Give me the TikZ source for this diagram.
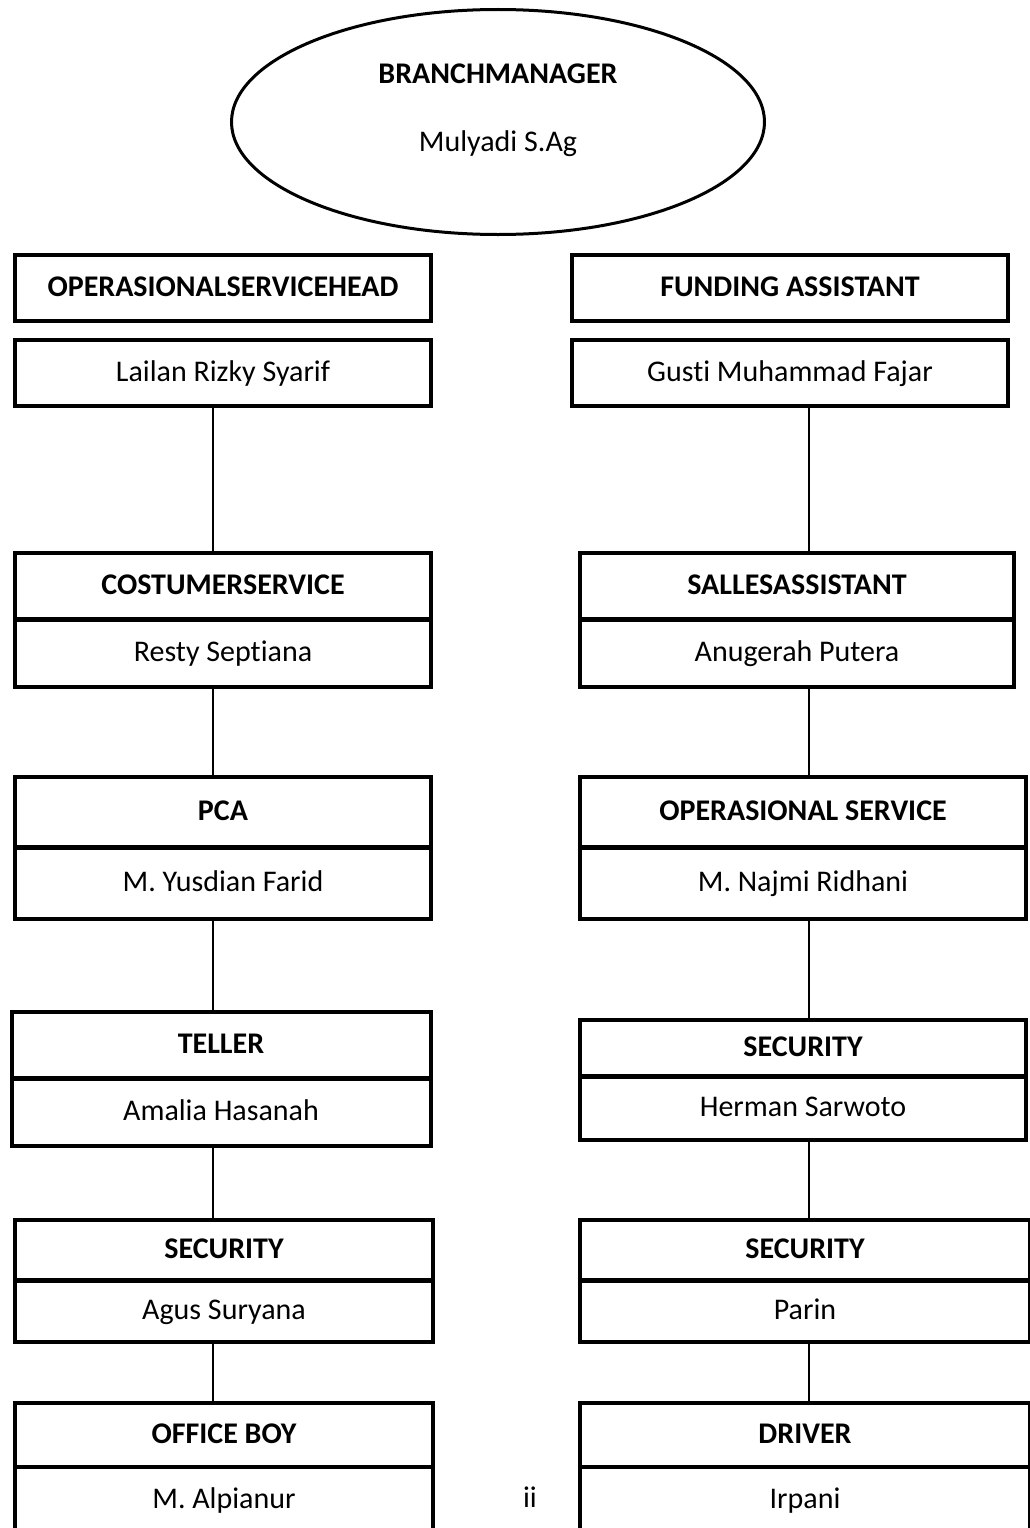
\documentclass[tikz,border=0pt]{standalone}
\usepackage{fontspec}
\setmainfont{Carlito}[Ligatures=NoCommon]
\usetikzlibrary{shapes.geometric}
\begin{document}
\begin{tikzpicture}[x=1pt,y=-1pt]
	\tikzset{every node/.style={inner sep=0pt,text height=19pt,text depth=3pt,font=\fontsize{30}{36}\selectfont}}
	\tikzset{titlebox/.style={draw=black,line width=4pt,rectangle,font=\fontsize{30}{36}\selectfont\bfseries}}
	\tikzset{namebox/.style={draw=black,line width=4pt,rectangle}}
	\tikzset{link/.style={black,line width=1.2pt}}
	\fill [white] (0,0) rectangle (1029,1528);
	\useasboundingbox (0,0) rectangle (1029,1528);
	\node [draw=black,ellipse,line width=3pt,minimum width=533pt,minimum height=225pt,text height=0pt,text depth=0pt] (bm) at (498,122) {};
	\node [font=\fontsize{30}{36}\selectfont\bfseries] (bmtitle) at (498,75) {BRANCHMANAGER};
	\node (bmname) at (498,143) {Mulyadi S.Ag};
	\node [titlebox,minimum width=416pt,minimum height=66pt] (oshead) at (223,288) {OPERASIONALSERVICEHEAD};
	\node [namebox,minimum width=416pt,minimum height=66pt] (osname) at (223,373) {Lailan Rizky Syarif};
	\node [titlebox,minimum width=436pt,minimum height=66pt] (fahead) at (790,288) {FUNDING ASSISTANT};
	\node [namebox,minimum width=436pt,minimum height=66pt] (faname) at (790,373) {Gusti Muhammad Fajar};
	\node [titlebox,minimum width=416pt,minimum height=66pt] (cshead) at (223,586) {COSTUMERSERVICE};
	\node [namebox,minimum width=416pt,minimum height=67pt] (csname) at (223,653) {Resty Septiana};
	\node [titlebox,minimum width=434pt,minimum height=66pt] (sahead) at (797,586) {SALLESASSISTANT};
	\node [namebox,minimum width=434pt,minimum height=67pt] (saname) at (797,653) {Anugerah Putera};
	\node [titlebox,minimum width=416pt,minimum height=70pt] (pcahead) at (223,812) {PCA};
	\node [namebox,minimum width=416pt,minimum height=71pt] (pcaname) at (223,883) {M. Yusdian Farid};
	\node [titlebox,minimum width=446pt,minimum height=70pt] (opshead) at (803,812) {OPERASIONAL SERVICE};
	\node [namebox,minimum width=446pt,minimum height=71pt] (opsname) at (803,883) {M. Najmi Ridhani};
	\node [titlebox,minimum width=419pt,minimum height=66pt] (tlhead) at (221,1045) {TELLER};
	\node [namebox,minimum width=419pt,minimum height=67pt] (tlname) at (221,1112) {Amalia Hasanah};
	\node [titlebox,minimum width=446pt,minimum height=56pt] (seconehead) at (803,1048) {SECURITY};
	\node [namebox,minimum width=446pt,minimum height=63pt] (seconename) at (803,1108) {Herman Sarwoto};
	\node [titlebox,minimum width=418pt,minimum height=60pt] (sectwohead) at (224,1250) {SECURITY};
	\node [namebox,minimum width=418pt,minimum height=61pt] (sectwoname) at (224,1311) {Agus Suryana};
	\node [titlebox,minimum width=450pt,minimum height=60pt] (secthreehead) at (805,1250) {SECURITY};
	\node [namebox,minimum width=450pt,minimum height=61pt] (secthreename) at (805,1311) {Parin};
	\node [titlebox,minimum width=418pt,minimum height=64pt] (obhead) at (224,1435) {OFFICE BOY};
	\node [namebox,minimum width=418pt,minimum height=66pt] (obname) at (224,1500) {M. Alpianur};
	\node [titlebox,minimum width=450pt,minimum height=64pt] (drvhead) at (805,1435) {DRIVER};
	\node [namebox,minimum width=450pt,minimum height=66pt] (drvname) at (805,1500) {Irpani};
	\node (pageno) at (530,1499) {ii};
	\coordinate (lx) at (213,0);
	\coordinate (rx) at (809,0);
	\draw [link] (osname.south -| lx) -- (cshead.north -| lx);
	\draw [link] (csname.south -| lx) -- (pcahead.north -| lx);
	\draw [link] (pcaname.south -| lx) -- (tlhead.north -| lx);
	\draw [link] (tlname.south -| lx) -- (sectwohead.north -| lx);
	\draw [link] (sectwoname.south -| lx) -- (obhead.north -| lx);
	\draw [link] (faname.south -| rx) -- (sahead.north -| rx);
	\draw [link] (saname.south -| rx) -- (opshead.north -| rx);
	\draw [link] (opsname.south -| rx) -- (seconehead.north -| rx);
	\draw [link] (seconename.south -| rx) -- (secthreehead.north -| rx);
	\draw [link] (secthreename.south -| rx) -- (drvhead.north -| rx);
\end{tikzpicture}
\end{document}
